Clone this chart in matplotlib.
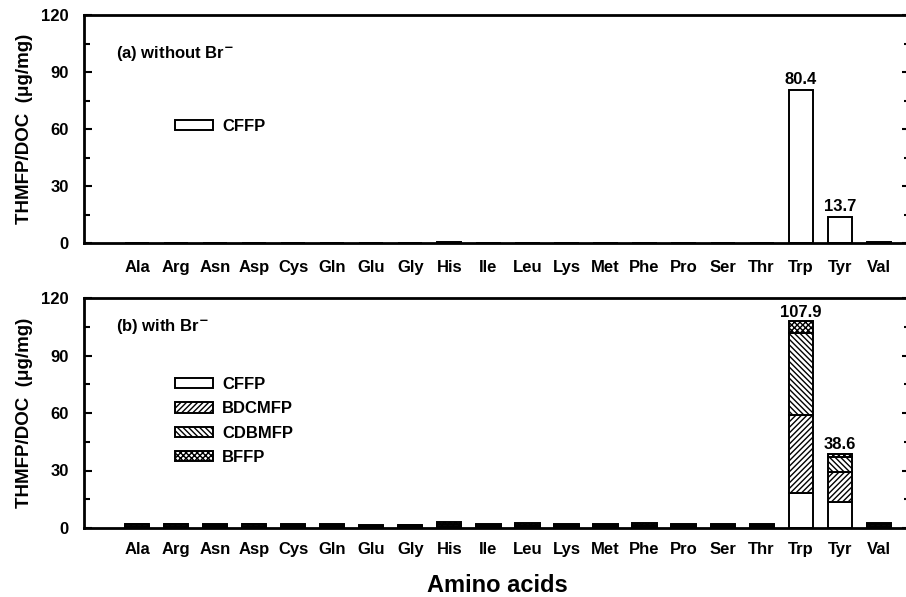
import numpy as np
import matplotlib
matplotlib.use("Agg")
import matplotlib.pyplot as plt
from matplotlib.ticker import MultipleLocator

plt.rcParams['font.family'] = ['Liberation Sans', 'DejaVu Sans']
plt.rcParams['font.weight'] = 'bold'
plt.rcParams['hatch.linewidth'] = 1.0
plt.rcParams['mathtext.default'] = 'bf'

# Datos
aminoacidos = ["Ala", "Arg", "Asn", "Asp", "Cys", "Gln", "Glu", "Gly", "His", "Ile",
               "Leu", "Lys", "Met", "Phe", "Pro", "Ser", "Thr", "Trp", "Tyr", "Val"]

# (a) sin Br-
cffp_a = [0.1, 0.1, 0.1, 0.1, 0.1, 0.1, 0.1, 0.1, 0.6, 0.1,
          0.1, 0.1, 0.1, 0.1, 0.1, 0.1, 0.1, 80.4, 13.7, 0.6]

# (b) con Br-
cffp_b   = [0.3, 0.3, 0.3, 0.3, 0.3, 0.3, 0.2, 0.3, 0.4, 0.3,
            0.3, 0.3, 0.3, 0.3, 0.3, 0.3, 0.3, 18.2, 13.8, 0.4]
bdcmfp_b = [0.8, 0.8, 0.7, 0.8, 0.7, 0.7, 0.5, 0.6, 0.8, 0.7,
            0.8, 0.7, 0.7, 0.8, 0.7, 0.7, 0.7, 41.0, 15.2, 0.9]
cdbmfp_b = [0.8, 0.8, 0.7, 0.8, 0.7, 0.7, 0.5, 0.5, 0.7, 0.7,
            0.7, 0.7, 0.7, 0.7, 0.7, 0.7, 0.7, 42.3, 7.8, 0.9]
bffp_b   = [0.3, 0.3, 0.3, 0.3, 0.3, 0.3, 0.3, 0.3, 1.1, 0.3,
            0.7, 0.3, 0.3, 0.7, 0.3, 0.3, 0.3, 6.4, 1.8, 0.3]

etiquetas_a = {"Trp": "80.4", "Tyr": "13.7"}
etiquetas_b = {"Trp": "107.9", "Tyr": "38.6"}

x = np.arange(len(aminoacidos))
ancho = 0.62
fs = 12

fig = plt.figure(figsize=(9.06, 5.97), dpi=100)
ax1 = fig.add_axes([84/906, (597-243)/597, 826/906, 228/597])
ax2 = fig.add_axes([84/906, (597-528)/597, 826/906, 230/597])


def estilo(ax, pad_x):
    ax.set_xlim(-1.36, 19.8)
    ax.set_ylim(0, 120)
    ax.yaxis.set_major_locator(MultipleLocator(30))
    ax.yaxis.set_minor_locator(MultipleLocator(15))
    ax.tick_params(axis='y', which='both', direction='in', right=True, width=1.5,
                   labelsize=fs, pad=11)
    ax.tick_params(axis='y', which='major', length=6)
    ax.tick_params(axis='y', which='minor', length=4)
    ax.set_xticks(x)
    ax.set_xticklabels(aminoacidos, fontsize=fs, fontweight='bold')
    ax.tick_params(axis='x', length=0, pad=pad_x)
    for s in ax.spines.values():
        s.set_linewidth(2)
    ax.set_ylabel("THMFP/DOC  (\u03bcg/mg)", fontsize=13.5, fontweight='bold')
    ax.yaxis.set_label_coords(-0.062, 0.5)


# Panel (a)
ax1.bar(x, cffp_a, ancho, color='white', edgecolor='black', linewidth=1.4, label='CFFP')
for i, nombre in enumerate(aminoacidos):
    if nombre in etiquetas_a:
        ax1.text(x[i], cffp_a[i] + 1.5, etiquetas_a[nombre], ha='center', va='bottom',
                 fontsize=fs, fontweight='bold')
estilo(ax1, 12)
ax1.text(0.039, 0.833, r"(a) without Br$^{-}$", transform=ax1.transAxes,
         fontsize=fs, fontweight='bold', va='center')
ax1.legend(loc='center left', bbox_to_anchor=(0.110, 0.513), frameon=False,
           fontsize=fs, handlelength=2.3, handleheight=0.55, handletextpad=0.55,
           borderpad=0, borderaxespad=0)

# Panel (b)
abajo = np.zeros(len(aminoacidos))
series = [(cffp_b, '', 'CFFP'), (bdcmfp_b, '//////', 'BDCMFP'),
          (cdbmfp_b, '\\\\\\\\\\\\', 'CDBMFP'), (bffp_b, 'xxxxxx', 'BFFP')]
for vals, trama, nombre in series:
    ax2.bar(x, vals, ancho, bottom=abajo, color='white', edgecolor='black',
            linewidth=1.4, hatch=trama, label=nombre)
    abajo = abajo + np.array(vals)
for i, nombre in enumerate(aminoacidos):
    if nombre in etiquetas_b:
        ax2.text(x[i], abajo[i] + 0.8, etiquetas_b[nombre], ha='center', va='bottom',
                 fontsize=fs, fontweight='bold')
estilo(ax2, 10)
ax2.text(0.039, 0.874, r"(b) with Br$^{-}$", transform=ax2.transAxes,
         fontsize=fs, fontweight='bold', va='center')
ax2.legend(loc='center left', bbox_to_anchor=(0.110, 0.465), frameon=False,
           fontsize=fs, handlelength=2.3, handleheight=0.55, handletextpad=0.55,
           labelspacing=0.56, borderpad=0, borderaxespad=0)
ax2.set_xlabel("Amino acids", fontsize=17, fontweight='bold', labelpad=12)

fig.savefig("out.png", dpi=100)
